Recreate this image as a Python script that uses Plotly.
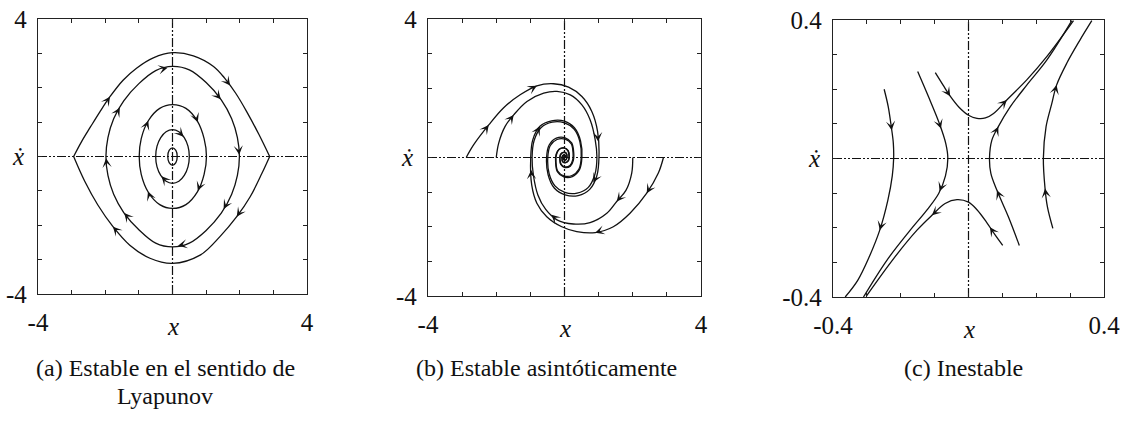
import numpy as np
import plotly.graph_objects as go

W, H = 1126, 421
FONT = "Liberation Serif, Times New Roman, serif"

# ---------------- (a) centre: closed orbits ----------------
a_range = [-4, 4]
a_ticks = [-4, -3, -2, -1, 0, 1, 2, 3, 4]
a_ticktext = ["-4", "", "", "", "", "", "", "", "4"]

a_outer_up_x = [-2.94, -2.70, -2.44, -2.16, -1.86, -1.47, -1.07, -0.57, 0.0, 0.62, 1.22, 1.55, 1.88, 2.21, 2.56, 2.89]
a_outer_up_y = [0.0, 0.44, 0.86, 1.30, 1.74, 2.22, 2.57, 2.87, 3.02, 2.93, 2.62, 2.28, 1.84, 1.30, 0.66, 0.0]
a_outer_lo_x = [2.89, 2.66, 2.31, 1.91, 1.41, 0.82, 0.0, -0.67, -1.27, -1.77, -2.22, -2.61, -2.94]
a_outer_lo_y = [0.0, -0.49, -1.17, -1.75, -2.33, -2.87, -3.11, -2.96, -2.58, -2.04, -1.41, -0.72, 0.0]
a_orb2_x = [-1.98, -1.92, -1.75, -1.45, -1.0, -0.5, 0.0, 0.5, 1.0, 1.45, 1.76, 1.93, 1.99,
            1.93, 1.76, 1.45, 1.0, 0.5, 0.0, -0.5, -1.0, -1.45, -1.75, -1.92, -1.98]
a_orb2_y = [0.0, 0.55, 1.10, 1.62, 2.12, 2.50, 2.62, 2.52, 2.15, 1.65, 1.10, 0.55, 0.0,
            -0.55, -1.10, -1.65, -2.15, -2.52, -2.63, -2.52, -2.13, -1.63, -1.10, -0.55, 0.0]
a_orb3_x = [-0.99, -0.93, -0.72, -0.38, 0.0, 0.40, 0.74, 0.94, 1.01, 0.94, 0.74, 0.40, 0.0, -0.38, -0.72, -0.93, -0.99]
a_orb3_y = [0.0, 0.52, 1.04, 1.40, 1.51, 1.40, 1.03, 0.52, 0.0, -0.52, -1.03, -1.40, -1.51, -1.40, -1.04, -0.52, 0.0]
a_orb4_x = [-0.50, -0.46, -0.35, -0.19, 0.0, 0.19, 0.35, 0.46, 0.50, 0.46, 0.35, 0.19, 0.0, -0.19, -0.35, -0.46, -0.50]
a_orb4_y = [0.0, 0.30, 0.55, 0.72, 0.78, 0.72, 0.55, 0.30, 0.0, -0.30, -0.55, -0.72, -0.78, -0.72, -0.55, -0.30, 0.0]
a_orb5_x = [-0.14, -0.10, 0.0, 0.10, 0.14, 0.10, 0.0, -0.10, -0.14]
a_orb5_y = [0.0, 0.18, 0.25, 0.18, 0.0, -0.18, -0.26, -0.18, 0.0]

a_arrow_curve = ["outer_up", "outer_up", "outer_lo", "outer_lo",
                 "orb2", "orb2", "orb2", "orb2", "orb2", "orb2", "orb2", "orb2",
                 "orb3", "orb3", "orb3", "orb3", "orb4", "orb4"]
a_arrow_x = [-1.86, 1.71, 1.91, -1.77,
             -1.57, -0.15, 1.42, 1.51, 0.17, -1.42, -1.98, 1.99,
             -0.72, 0.76, 0.76, -0.74, 0.33, -0.33]
a_arrow_y = [1.74, 2.06, -1.75, -2.04,
             1.42, 2.60, 1.65, -1.52, -2.62, -1.63, -0.05, 0.05,
             1.04, 1.00, -1.00, -1.02, 0.58, -0.58]

# ---------------- (b) stable focus: spirals ----------------
b_range = [-4, 4]
b_ticks = [-4, -3, -2, -1, 0, 1, 2, 3, 4]
b_ticktext = ["-4", "", "", "", "", "", "", "", "4"]

b_t1_x = [-2.88, -2.66, -2.22, -1.79, -1.30, -0.81, -0.32, 0.12, 0.51, 0.80, 0.97, 1.01,
          0.95, 0.74, 0.40, 0.02, -0.30, -0.48, -0.525, -0.45, -0.24, 0.02, 0.21, 0.27,
          0.26, 0.17, 0.01, -0.11, -0.14, -0.12, -0.04, 0.05, 0.075, 0.05, 0.0, -0.03, -0.038, -0.02, 0.0]
b_t1_y = [0.0, 0.37, 0.94, 1.43, 1.81, 2.07, 2.13, 2.03, 1.76, 1.33, 0.75, 0.0,
          -0.52, -0.92, -1.10, -1.08, -0.88, -0.50, 0.0, 0.36, 0.56, 0.57, 0.42, 0.14,
          -0.08, -0.25, -0.29, -0.20, -0.04, 0.09, 0.15, 0.13, 0.02, -0.06, -0.08, -0.05, 0.0, 0.03, 0.03]
b_t2_x = [-2.0, -1.93, -1.74, -1.49, -1.10, -0.61, -0.22, 0.17, 0.51, 0.75, 0.90, 0.95,
          0.89, 0.69, 0.37, 0.01, -0.28, -0.45, -0.49, -0.42, -0.22, 0.02, 0.20, 0.25,
          0.24, 0.16, 0.01, -0.10, -0.13, -0.11, -0.04, 0.05, 0.07, 0.05, 0.0, -0.03, -0.035]
b_t2_y = [0.0, 0.41, 0.90, 1.23, 1.62, 1.86, 1.91, 1.81, 1.52, 1.09, 0.51, 0.0,
          -0.49, -0.87, -1.03, -1.01, -0.82, -0.47, 0.0, 0.34, 0.52, 0.53, 0.39, 0.13,
          -0.07, -0.23, -0.27, -0.19, -0.04, 0.08, 0.14, 0.12, 0.02, -0.05, -0.07, -0.04, 0.0]
b_t3_x = [2.90, 2.75, 2.41, 1.92, 1.43, 0.90, 0.36, -0.08, -0.52, -0.81, -0.96, -0.99,
          -0.93, -0.72, -0.38, 0.0, 0.29, 0.47, 0.51, 0.44, 0.23, -0.02, -0.21, -0.26,
          -0.25, -0.16, -0.01, 0.11, 0.14, 0.12, 0.04, -0.05, -0.075, -0.05, 0.0, 0.03, 0.037]
b_t3_y = [0.0, -0.45, -1.03, -1.61, -2.00, -2.17, -2.14, -2.00, -1.71, -1.32, -0.80, 0.0,
          0.51, 0.90, 1.06, 1.05, 0.86, 0.48, 0.0, -0.35, -0.55, -0.56, -0.41, -0.14,
          0.08, 0.24, 0.28, 0.20, 0.04, -0.09, -0.15, -0.13, -0.02, 0.06, 0.08, 0.05, 0.0]
b_t4_x = [2.0, 1.97, 1.80, 1.53, 1.24, 0.75, 0.26, -0.22, -0.55, -0.78, -0.91, -0.95,
          -0.89, -0.69, -0.36, 0.0, 0.28, 0.45, 0.49, 0.42, 0.22, -0.02, -0.20, -0.25,
          -0.24, -0.16, -0.01, 0.10, 0.13, 0.11, 0.04, -0.05, -0.07, -0.05, 0.0, 0.03, 0.035]
b_t4_y = [0.0, -0.45, -0.95, -1.27, -1.61, -1.88, -1.92, -1.80, -1.50, -1.08, -0.52, 0.0,
          0.49, 0.86, 1.02, 1.00, 0.82, 0.46, 0.0, -0.34, -0.52, -0.53, -0.39, -0.13,
          0.07, 0.23, 0.27, 0.19, 0.04, -0.08, -0.14, -0.12, -0.02, 0.05, 0.07, 0.04, 0.0]

b_arrow_curve = ["t1", "t1", "t1", "t1", "t2", "t3", "t3", "t3", "t3", "t4", "t4"]
b_arrow_x = [-2.22, -0.81, 0.985, 0.845, -1.49, 2.41, 0.90, -0.976, -0.72, 1.53, -0.385]
b_arrow_y = [0.94, 2.07, 0.465, -0.72, 1.23, -1.03, -2.17, -0.36, 0.90, -1.27, -1.65]

# ---------------- (c) saddle: hyperbolic trajectories ----------------
c_range = [-0.4, 0.4]
c_ticks = [-0.4, -0.3, -0.2, -0.1, 0.0, 0.1, 0.2, 0.3, 0.4]
c_ticktext = ["-0.4", "", "", "", "", "", "", "", "0.4"]

c_c1_x = [-0.249, -0.237, -0.228, -0.222, -0.221, -0.225, -0.238, -0.262, -0.293, -0.327, -0.364]
c_c1_y = [0.200, 0.150, 0.092, 0.045, 0.0, -0.050, -0.120, -0.207, -0.284, -0.352, -0.400]
c_c2_x = [-0.150, -0.118, -0.086, -0.067, -0.061, -0.068, -0.088, -0.123, -0.172, -0.241, -0.310]
c_c2_y = [0.251, 0.178, 0.101, 0.043, 0.0, -0.050, -0.101, -0.149, -0.207, -0.294, -0.400]
c_c3_x = [-0.098, -0.075, -0.054, -0.028, 0.0, 0.025, 0.050, 0.074, 0.113, 0.172, 0.231, 0.310]
c_c3_y = [0.248, 0.212, 0.180, 0.148, 0.125, 0.116, 0.117, 0.130, 0.169, 0.227, 0.294, 0.398]
c_c4_x = [0.101, 0.078, 0.054, 0.025, 0.0, -0.034, -0.069, -0.108, -0.152, -0.221, -0.302]
c_c4_y = [-0.251, -0.220, -0.185, -0.148, -0.126, -0.119, -0.130, -0.164, -0.207, -0.289, -0.398]
c_c5_x = [0.150, 0.118, 0.084, 0.066, 0.062, 0.069, 0.088, 0.123, 0.172, 0.231, 0.305]
c_c5_y = [-0.251, -0.169, -0.092, -0.043, 0.0, 0.053, 0.092, 0.149, 0.212, 0.284, 0.398]
c_c6_x = [0.249, 0.233, 0.226, 0.221, 0.229, 0.246, 0.260, 0.290, 0.329, 0.364]
c_c6_y = [-0.202, -0.140, -0.087, 0.0, 0.092, 0.159, 0.212, 0.275, 0.342, 0.398]

c_arrow_curve = ["c1", "c1", "c2", "c2", "c3", "c3", "c4", "c4", "c5", "c5", "c6", "c6"]
c_arrow_x = [-0.222, -0.262, -0.080, -0.084, -0.054, 0.113, 0.064, -0.108, 0.084, 0.088, 0.226, 0.260]
c_arrow_y = [0.082, -0.207, 0.087, -0.095, 0.180, 0.169, -0.198, -0.164, -0.092, 0.092, -0.087, 0.212]

# ---------------- layout geometry (pixels) ----------------
panels = {
    "a": dict(box=(38, 307, 19, 294), xa="x", ya="y"),
    "b": dict(box=(428, 701, 19, 296), xa="x2", ya="y2"),
    "c": dict(box=(833, 1104, 20, 297), xa="x3", ya="y3"),
}

fig = go.Figure()

CURVE = dict(color="#111111", width=1.3)
AXLINE = dict(color="#111111", width=1.2, dash="9px,2px,2px,2px,2px,2px")


def add_axes_cross(rng, xa, ya):
    fig.add_trace(go.Scatter(x=rng, y=[0, 0], mode="lines", line=AXLINE,
                             xaxis=xa, yaxis=ya, hoverinfo="skip", showlegend=False))
    fig.add_trace(go.Scatter(x=[0, 0], y=rng, mode="lines", line=AXLINE,
                             xaxis=xa, yaxis=ya, hoverinfo="skip", showlegend=False))


def add_curve(xs, ys, xa, ya):
    fig.add_trace(go.Scatter(x=xs, y=ys, mode="lines", line=dict(shape="spline", smoothing=1, **CURVE),
                             xaxis=xa, yaxis=ya, hoverinfo="skip", showlegend=False))


def arrow_on(xs, ys, hx, hy, sx, sy, xa, ya, back=6.0):
    """Arrowhead on the polyline nearest to (hx, hy), pointing along it."""
    pts = np.column_stack([np.asarray(xs) * sx, np.asarray(ys) * sy])
    p = np.array([hx * sx, hy * sy])
    best = None
    for i in range(len(pts) - 1):
        a, b = pts[i], pts[i + 1]
        d = b - a
        L2 = float(d @ d)
        if L2 == 0:
            continue
        t = float(np.clip((p - a) @ d / L2, 0, 1))
        q = a + t * d
        dist = float(np.linalg.norm(p - q))
        if best is None or dist < best[0]:
            best = (dist, q, d / np.sqrt(L2))
    _, q, u = best
    tail = q - u * back
    return dict(x=q[0] / sx, y=q[1] / sy, ax=tail[0] / sx, ay=tail[1] / sy,
                xref=xa, yref=ya, axref=xa, ayref=ya, text="", showarrow=True,
                arrowhead=3, arrowsize=1.4, arrowwidth=1.1, arrowcolor="#111111",
                standoff=0, startstandoff=0)


annotations = []

# panel (a)
pa = panels["a"]
sx_a = (pa["box"][1] - pa["box"][0]) / (a_range[1] - a_range[0])
sy_a = (pa["box"][3] - pa["box"][2]) / (a_range[1] - a_range[0])
add_axes_cross(a_range, pa["xa"], pa["ya"])
a_curves = {
    "outer_up": (a_outer_up_x, a_outer_up_y),
    "outer_lo": (a_outer_lo_x, a_outer_lo_y),
    "orb2": (a_orb2_x, a_orb2_y),
    "orb3": (a_orb3_x, a_orb3_y),
    "orb4": (a_orb4_x, a_orb4_y),
    "orb5": (a_orb5_x, a_orb5_y),
}
for xs, ys in a_curves.values():
    add_curve(xs, ys, pa["xa"], pa["ya"])
for name, hx, hy in zip(a_arrow_curve, a_arrow_x, a_arrow_y):
    xs, ys = a_curves[name]
    annotations.append(arrow_on(xs, ys, hx, hy, sx_a, sy_a, pa["xa"], pa["ya"]))

# panel (b)
pb = panels["b"]
sx_b = (pb["box"][1] - pb["box"][0]) / (b_range[1] - b_range[0])
sy_b = (pb["box"][3] - pb["box"][2]) / (b_range[1] - b_range[0])
add_axes_cross(b_range, pb["xa"], pb["ya"])
b_curves = {
    "t1": (b_t1_x, b_t1_y),
    "t2": (b_t2_x, b_t2_y),
    "t3": (b_t3_x, b_t3_y),
    "t4": (b_t4_x, b_t4_y),
}
for xs, ys in b_curves.values():
    add_curve(xs, ys, pb["xa"], pb["ya"])
for name, hx, hy in zip(b_arrow_curve, b_arrow_x, b_arrow_y):
    xs, ys = b_curves[name]
    annotations.append(arrow_on(xs, ys, hx, hy, sx_b, sy_b, pb["xa"], pb["ya"]))

# panel (c)
pc = panels["c"]
sx_c = (pc["box"][1] - pc["box"][0]) / (c_range[1] - c_range[0])
sy_c = (pc["box"][3] - pc["box"][2]) / (c_range[1] - c_range[0])
add_axes_cross(c_range, pc["xa"], pc["ya"])
c_curves = {
    "c1": (c_c1_x, c_c1_y),
    "c2": (c_c2_x, c_c2_y),
    "c3": (c_c3_x, c_c3_y),
    "c4": (c_c4_x, c_c4_y),
    "c5": (c_c5_x, c_c5_y),
    "c6": (c_c6_x, c_c6_y),
}
for xs, ys in c_curves.values():
    add_curve(xs, ys, pc["xa"], pc["ya"])
for name, hx, hy in zip(c_arrow_curve, c_arrow_x, c_arrow_y):
    xs, ys = c_curves[name]
    annotations.append(arrow_on(xs, ys, hx, hy, sx_c, sy_c, pc["xa"], pc["ya"]))


def paper(px, py):
    return px / W, 1 - py / H


def text_at(px, py, txt, size, **kw):
    x, y = paper(px, py)
    annotations.append(dict(x=x, y=y, xref="paper", yref="paper", text=txt, showarrow=False,
                            xanchor="center", yanchor="middle",
                            font=dict(family=FONT, size=size, color="#111111"), **kw))


# axis variable labels
for key, xdot_px, x_px in (("a", 18, 173), ("b", 407, 565), ("c", 814, 969)):
    box = panels[key]["box"]
    mid_y = (box[2] + box[3]) / 2
    text_at(xdot_px, mid_y, "<i>ẋ</i>", 25)
    text_at(x_px, box[3] + 32, "<i>x</i>", 25)

# captions
text_at(165, 368, "(a) Estable en el sentido de", 24)
text_at(165, 396, "Lyapunov", 24)
text_at(546, 368, "(b) Estable asintóticamente", 24)
text_at(963, 368, "(c) Inestable", 24)


def axis_common(domain, rng, ticks, ticktext, anchor, standoff):
    return dict(domain=domain, range=rng, anchor=anchor, automargin=False,
                showgrid=False, zeroline=False,
                showline=True, linecolor="#222222", linewidth=1.4, mirror="ticks",
                ticks="inside", ticklen=4, tickwidth=1, tickcolor="#222222",
                tickvals=ticks, ticktext=ticktext, ticklabelstandoff=standoff,
                tickfont=dict(family=FONT, size=25, color="#111111"), fixedrange=True)


layout_axes = {}
for idx, (key, rng, ticks, ttext) in enumerate((("a", a_range, a_ticks, a_ticktext),
                                                  ("b", b_range, b_ticks, b_ticktext),
                                                  ("c", c_range, c_ticks, c_ticktext)), start=1):
    x0, x1, y0, y1 = panels[key]["box"]
    suffix = "" if idx == 1 else str(idx)
    layout_axes["xaxis" + suffix] = axis_common([x0 / W, x1 / W], rng, ticks, ttext, "y" + suffix, 6)
    layout_axes["yaxis" + suffix] = axis_common([1 - y1 / H, 1 - y0 / H], rng, ticks, ttext, "x" + suffix, 5)

fig.update_layout(
    template="none",
    width=W, height=H, autosize=False,
    margin=dict(l=0, r=0, t=0, b=0, pad=0),
    paper_bgcolor="white", plot_bgcolor="white",
    font=dict(family=FONT, color="#111111"),
    showlegend=False,
    annotations=annotations,
    **layout_axes,
)

fig.write_html("out.html")
